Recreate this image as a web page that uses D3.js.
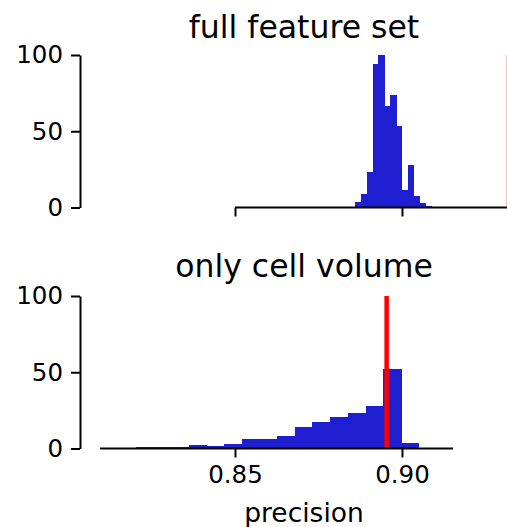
<!DOCTYPE html>
<html>
<head>
<meta charset="utf-8">
<script src="https://cdn.jsdelivr.net/npm/d3@7"></script>
<style>
  html, body { margin: 0; padding: 0; background: #fff; }
  svg { display: block; }
  text { font-family: "DejaVu Sans", sans-serif; fill: #000; }
</style>
</head>
<body>
<svg id="chart" width="507" height="527"></svg>
<script>
// ---- data ----
const panelTitles = ["full feature set", "only cell volume"];
const xTickValues = [0.85, 0.90];
const xTickLabels = ["0.85", "0.90"];
const yTickValues = [0, 50, 100];
const xLabel = "precision";

// top panel histogram (bin edges, counts)
const topEdges = [0.88593, 0.88768, 0.88943, 0.89118, 0.89293, 0.89469, 0.89644,
                  0.89819, 0.89994, 0.90169, 0.90344, 0.90519, 0.90694, 0.90870];
const topCounts = [3.6, 8.9, 23.3, 94.1, 100, 66.6, 73.8, 53.4, 11.5, 27.9, 7.5, 3, 1];
const topReference = 0.93204;

// bottom panel histogram (bin edges, counts)
const bottomEdges = [0.82021, 0.82551, 0.83081, 0.83611, 0.84141, 0.84671, 0.85201,
                     0.85731, 0.86260, 0.86790, 0.87320, 0.87850, 0.88380, 0.88910,
                     0.89440, 0.89970, 0.90500];
const bottomCounts = [1, 1, 1, 2.3, 1.6, 3, 6, 6, 8.2, 14.3, 17.6, 20.9, 23.5, 28.1, 51.9, 3.8];
const bottomReference = 0.8954;

// ---- layout ----
const svg = d3.select("#chart");
const barColor = "#1f1fd1";
const refColor = "#ff0000";
const tickFont = 24.5;
const titleFont = 31.5;
const labelFont = 26.5;

const x = d3.scaleLinear().domain([0.80389, 0.93743]).range([81, 527]);

const panels = [
  { title: panelTitles[0], edges: topEdges, counts: topCounts, ref: topReference,
    y: d3.scaleLinear().domain([0, 100]).range([207.5, 55]), titleY: 38,
    spine: [0.85, 0.93743], labels: false },
  { title: panelTitles[1], edges: bottomEdges, counts: bottomCounts, ref: bottomReference,
    y: d3.scaleLinear().domain([0, 100]).range([448.5, 296]), titleY: 277,
    spine: [0.8096, 0.9153], labels: true }
];

panels.forEach(p => {
  const g = svg.append("g");
  const bins = p.counts.map((c, i) => ({ x0: p.edges[i], x1: p.edges[i + 1], c }));

  // bars
  g.selectAll("rect.bar").data(bins).enter().append("rect")
    .attr("class", "bar")
    .attr("x", d => x(d.x0))
    .attr("width", d => x(d.x1) - x(d.x0) + 0.6)
    .attr("y", d => p.y(d.c))
    .attr("height", d => p.y(0) - p.y(d.c))
    .attr("fill", barColor)
    .attr("shape-rendering", "crispEdges");

  // reference line
  g.append("line")
    .attr("x1", x(p.ref)).attr("x2", x(p.ref))
    .attr("y1", p.y(100)).attr("y2", p.y(0))
    .attr("stroke", refColor).attr("stroke-width", 4.5);

  // y axis
  const yAxis = d3.axisLeft(p.y).tickValues(yTickValues).tickSize(9).tickSizeOuter(0).tickPadding(8);
  const ya = g.append("g").attr("transform", "translate(80,0)").call(yAxis);
  ya.select(".domain").attr("stroke-width", 2).attr("stroke", "#000");
  ya.selectAll(".tick line").attr("stroke-width", 2).attr("stroke", "#000");
  ya.selectAll(".tick text").attr("font-size", tickFont)
    .attr("font-family", "DejaVu Sans, sans-serif").attr("fill", "#000");

  // x axis
  const xAxis = d3.axisBottom(x).tickValues(xTickValues).tickSize(9).tickSizeOuter(0).tickPadding(8)
    .tickFormat((d, i) => p.labels ? xTickLabels[i] : "");
  const xa = g.append("g").attr("transform", `translate(0,${p.y(0)})`).call(xAxis);
  xa.select(".domain").remove();
  xa.selectAll(".tick line").attr("stroke-width", 2).attr("stroke", "#000");
  xa.selectAll(".tick text").attr("font-size", tickFont)
    .attr("font-family", "DejaVu Sans, sans-serif").attr("fill", "#000");
  xa.append("line")
    .attr("x1", x(p.spine[0])).attr("x2", x(p.spine[1]))
    .attr("y1", 0).attr("y2", 0)
    .attr("stroke", "#000").attr("stroke-width", 2);

  // title
  g.append("text")
    .attr("x", 304).attr("y", p.titleY)
    .attr("text-anchor", "middle")
    .attr("font-size", titleFont)
    .text(p.title);
});

// x label
svg.append("text")
  .attr("x", 304).attr("y", 522)
  .attr("text-anchor", "middle")
  .attr("font-size", labelFont)
  .text(xLabel);
</script>
</body>
</html>
